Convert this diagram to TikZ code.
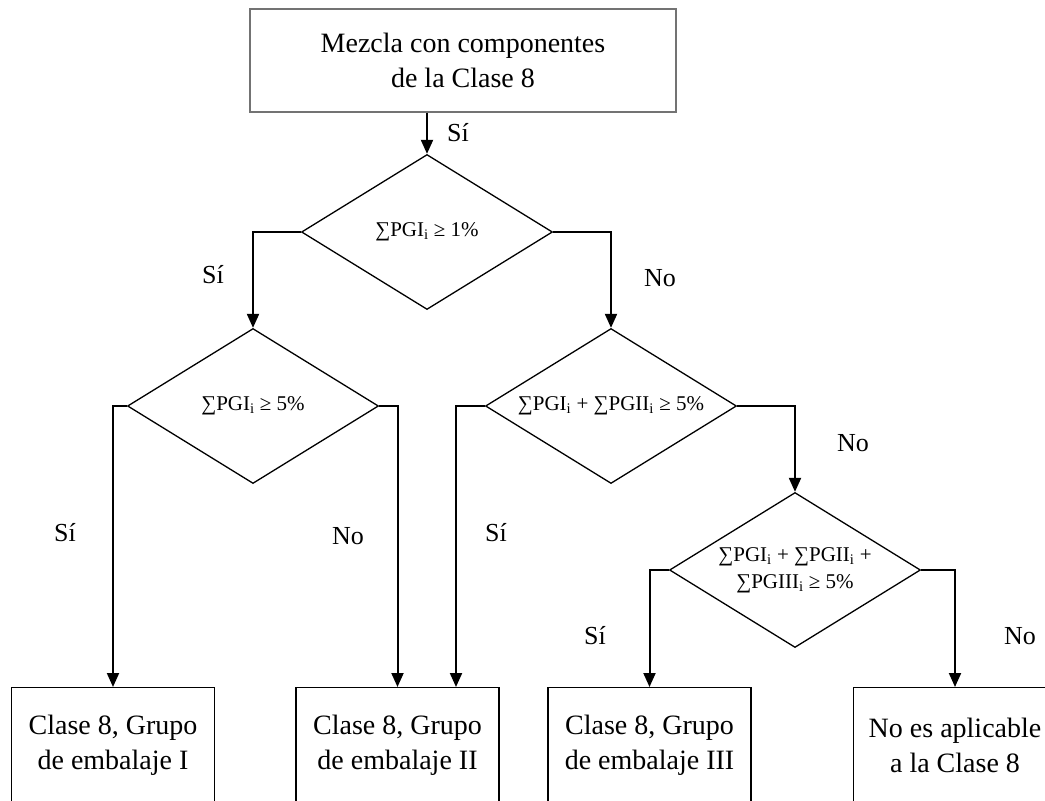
\documentclass[tikz,border=0pt]{standalone}
\usepackage{fontspec}
\setmainfont{Liberation Serif}
\usetikzlibrary{shapes.geometric,arrows.meta}
\begin{document}
\begin{tikzpicture}[x=1pt,y=-1pt,
  box/.style={draw,line width=1.3pt,minimum width=203pt,minimum height=116pt,inner sep=0pt,align=center,font=\fontsize{28}{35}\selectfont},
  dec/.style={draw,line width=1.3pt,shape=diamond,aspect=1.62,minimum width=251pt,minimum height=155pt,inner sep=0pt,align=center,font=\fontsize{21}{27}\selectfont},
  conn/.style={line width=2pt,-{Triangle[length=14pt,width=12pt]}},
  lab/.style={font=\fontsize{26}{30}\selectfont}]
\useasboundingbox (0,0) rectangle (1045,801);
\node[draw=black!55,line width=1.3pt,minimum width=426pt,minimum height=103pt,inner sep=0pt,align=center,font=\fontsize{28}{35}\selectfont] (top) at (463,60.5) {Mezcla con componentes\\de la Clase 8};
\node[dec] (d1) at (427,232) {∑PGI\textsubscript{i} ≥ 1\%};
\node[dec] (d2) at (253,406) {∑PGI\textsubscript{i} ≥ 5\%};
\node[dec] (d3) at (611,406) {∑PGI\textsubscript{i} + ∑PGII\textsubscript{i} ≥ 5\%};
\node[dec] (d4) at (795,570) {∑PGI\textsubscript{i} + ∑PGII\textsubscript{i} +\\∑PGIII\textsubscript{i} ≥ 5\%};
\node[box,anchor=north] (b1) at (113,687) {Clase 8, Grupo\\de embalaje I};
\node[box,anchor=north] (b2) at (397.5,687) {Clase 8, Grupo\\de embalaje II};
\node[box,anchor=north] (b3) at (649.5,687) {Clase 8, Grupo\\de embalaje III};
\node[box,anchor=north] (b4) at (955,687) {No es aplicable\\a la Clase 8};
\coordinate (b2r) at (456,687);
\draw[conn] (top.south -| d1.north) -- (d1.north);
\draw[conn] (d1.west) -| (d2.north);
\draw[conn] (d1.east) -| (d3.north);
\draw[conn] (d2.west) -| (b1.north);
\draw[conn] (d2.east) -| (b2.north);
\draw[conn] (d3.west) -| (b2r);
\draw[conn] (d3.east) -| (d4.north);
\draw[conn] (d4.west) -| (b3.north);
\draw[conn] (d4.east) -| (b4.north);
\node[lab] (l1) at (458,133) {Sí};
\node[lab] (l2) at (213,275) {Sí};
\node[lab] (l3) at (660,278) {No};
\node[lab] (l4) at (65,533) {Sí};
\node[lab] (l5) at (348,536) {No};
\node[lab] (l6) at (496,533) {Sí};
\node[lab] (l7) at (853,443) {No};
\node[lab] (l8) at (595,636) {Sí};
\node[lab] (l9) at (1020,636) {No};
\end{tikzpicture}
\end{document}
